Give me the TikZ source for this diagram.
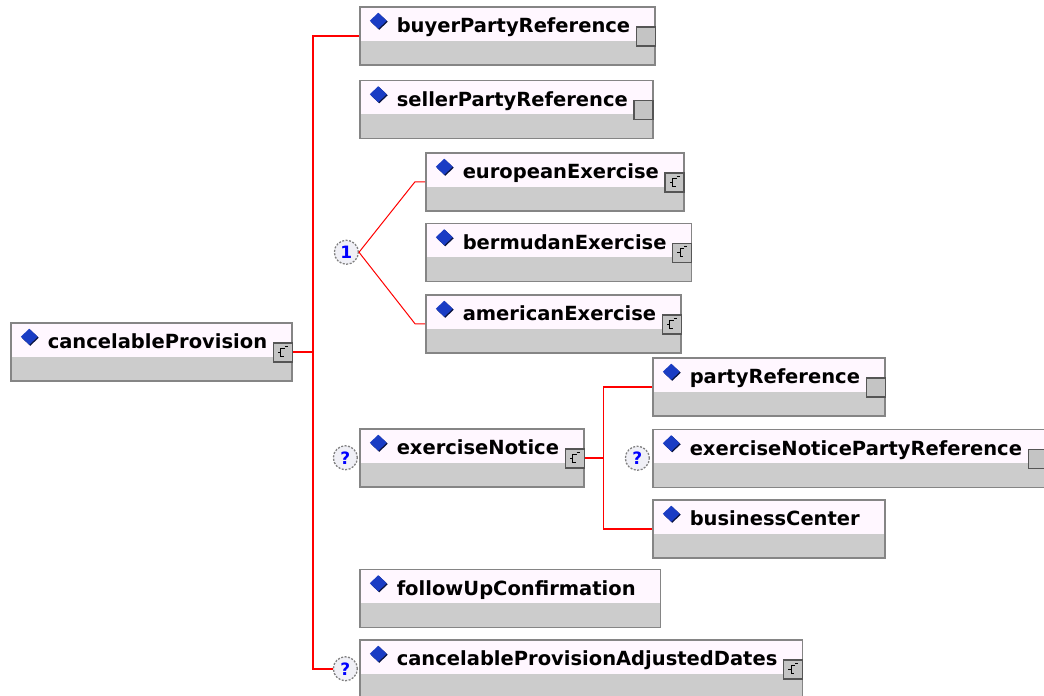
\documentclass[tikz,border=0pt]{standalone}
\usepackage{fontspec}
\setmainfont{DejaVu Sans}
\usetikzlibrary{positioning}

\definecolor{boxwhite}{HTML}{FFF7FF}
\definecolor{boxgrey}{HTML}{CCCCCC}
\definecolor{boxline}{HTML}{858585}
\definecolor{iconfill}{HTML}{C4C4C4}
\definecolor{iconline}{HTML}{555555}
\definecolor{linkred}{HTML}{FF0000}
\definecolor{dmblue}{HTML}{1A3CC4}
\definecolor{dmdark}{HTML}{0A1440}
\definecolor{markblue}{HTML}{0000FF}
\definecolor{markfill}{HTML}{F0F0F6}

\begin{document}
\begin{tikzpicture}[x=1pt, y=1pt,
    elem/.style={draw=boxline, line width=1.5pt, fill=boxwhite, anchor=north west,
                 inner sep=0pt, text height=26pt, text depth=32pt,
                 font=\fontsize{19.5}{22}\selectfont\bfseries,
                 execute at begin node=\hspace*{37pt}, execute at end node=\hspace*{25pt},
                 path picture={
                   \fill[boxgrey] (path picture bounding box.south west)
                     rectangle ([yshift=24pt]path picture bounding box.south east);
                   \fill[dmdark] ([shift={(19.5pt,-15pt)}]path picture bounding box.north west)
                     +(-8.5pt,0) -- +(0,8pt) -- +(8.5pt,0) -- +(0,-8pt) -- cycle;
                   \fill[dmblue] ([shift={(18.5pt,-14pt)}]path picture bounding box.north west)
                     +(-8.5pt,0) -- +(0,8pt) -- +(8.5pt,0) -- +(0,-8pt) -- cycle;}},
    simp/.style={draw=iconline, fill=iconfill, line width=1.2pt, minimum size=19pt,
                 inner sep=0pt, anchor=south east},
    cplx/.style={simp, path picture={
                   \draw[black, line width=1pt]
                     ([shift={(2pt,4pt)}]path picture bounding box.center) -- ++(-4pt,0)
                     -- ++(0,-8pt) -- ++(3pt,0)
                     ([shift={(-2pt,0pt)}]path picture bounding box.center) -- ++(-3pt,0)
                     ([shift={(2pt,6pt)}]path picture bounding box.center) -- ++(3pt,0);}},
    occur/.style={circle, draw=gray, dash pattern=on 2pt off 1.5pt, line width=1.3pt,
                  fill=markfill, minimum size=24pt, inner sep=0pt, text=markblue,
                  font=\fontsize{17}{17}\selectfont\bfseries},
    link/.style={draw=linkred, line width=1.5pt}]

    \useasboundingbox (0,0) rectangle (1044,-696);

    % Root element
    \node[elem] (root) at (10,-322) {cancelableProvision};

    % Sequence children
    \node[elem] (buyer) at (359,-6) {buyerPartyReference};
    \node[elem, below right=14pt and 0pt of buyer.south west] (seller) {sellerPartyReference};
    \node[elem, below right=13pt and 66pt of seller.south west] (european) {europeanExercise};
    \node[elem, below right=11pt and 0pt of european.south west] (bermudan) {bermudanExercise};
    \node[elem, below right=12pt and 0pt of bermudan.south west] (american) {americanExercise};
    \node[elem] (notice) at (359,-428) {exerciseNotice};
    \node[elem, below right=81pt and 0pt of notice.south west] (followup) {followUpConfirmation};
    \node[elem, below right=11pt and 0pt of followup.south west] (adjdates) {cancelableProvisionAdjustedDates};

    % Children of exerciseNotice
    \node[elem] (partyref) at (652,-357) {partyReference};
    \node[elem, below right=12pt and 0pt of partyref.south west] (noticeparty) {exerciseNoticePartyReference};
    \node[elem, below right=11pt and 0pt of noticeparty.south west] (bizcenter) {businessCenter};

    % Type icons
    \foreach \el in {buyer, seller, partyref, noticeparty}
        \node[simp] (\el-icon) at ([yshift=19pt]\el.south east) {};
    \foreach \el in {root, european, bermudan, american, notice, adjdates}
        \node[cplx] (\el-icon) at ([yshift=19pt]\el.south east) {};

    % Occurrence markers
    \node[occur, left=66pt of bermudan] (choice) {1};
    \node[occur, left=1pt of notice] (notice-opt) {?};
    \node[occur, left=2pt of noticeparty] (noticeparty-opt) {?};
    \node[occur, left=1pt of adjdates] (adjdates-opt) {?};

    % Connectors
    \coordinate[right=20pt of root.east] (trunk);
    \draw[link] (root.east) -- (trunk);
    \draw[link] (buyer.west) -| (trunk) |- (adjdates-opt.west);
    \draw[link, line width=1pt] (european.west) -- ++(-10pt,0) -- (choice.east)
        -- ([xshift=-10pt]american.west) -- (american.west);

    \coordinate[right=19pt of notice.east] (notice-trunk);
    \draw[link] (notice.east) -- (notice-trunk);
    \draw[link] (partyref.west) -| (notice-trunk) |- (bizcenter.west);
\end{tikzpicture}
\end{document}
